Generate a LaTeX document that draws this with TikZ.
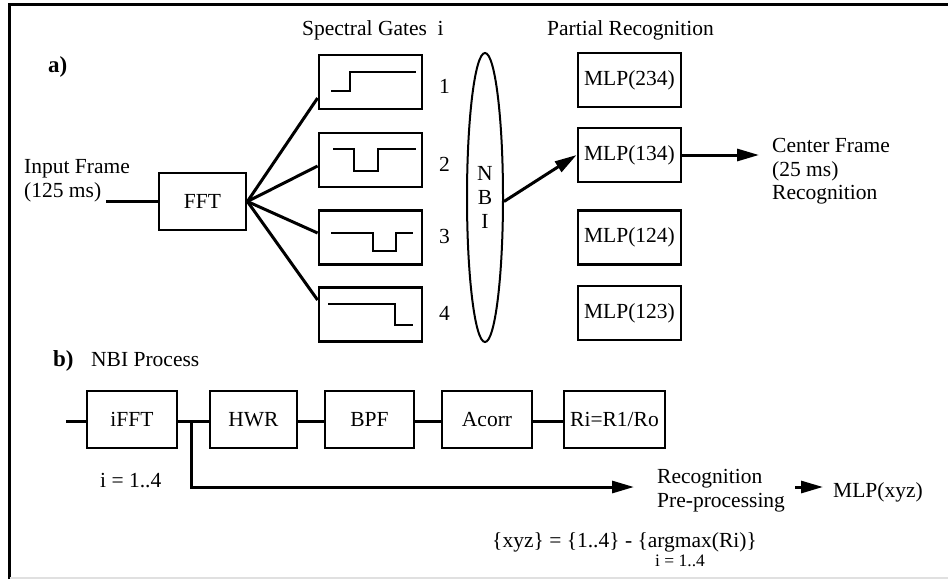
\documentclass[tikz,border=0pt]{standalone}
\usepackage{fontspec}
\setmainfont{Liberation Serif}
\usetikzlibrary{shapes.geometric,arrows.meta,calc}
\begin{document}
\begin{tikzpicture}[x=1pt,y=-1pt,
  font=\fontsize{21.5}{24}\selectfont,
  box/.style={draw,line width=2.8pt,inner sep=0pt,minimum height=54pt},
  rowbox/.style={draw,line width=2.8pt,inner sep=0pt,minimum height=57pt},
  conn/.style={line width=3pt},
  gate/.style={line width=2pt},
  arr/.style={line width=3pt,-{Triangle[length=22pt,width=12pt]}},
  txt/.style={anchor=base west,inner sep=0pt},
  ctxt/.style={anchor=base,inner sep=0pt},
  lbl/.style={anchor=base west,inner sep=0pt,font=\fontsize{23}{26}\selectfont\bfseries},
  small/.style={anchor=base,inner sep=0pt,font=\fontsize{17.5}{20}\selectfont}]
\useasboundingbox (0,0) rectangle (948,579);
% frame
\draw[line width=3pt] (9.5,579) -- (9.5,4) -- (948,4);
\draw[black!12,line width=1.2pt] (9.5,578) -- (948,578);

% ---------- a) ----------
\node[lbl] (la) at (48,72) {a)};
\node[txt] (sg) at (302,35) {Spectral Gates\ \ i};
\node[txt] (pr) at (547,35) {Partial Recognition};
\node[txt] (in1) at (24,173) {Input Frame};
\node[txt] (in2) at (24,197) {(125 ms)};

\node[box,minimum width=87pt,minimum height=57pt] (fft) at (202.5,201.5) {FFT};

\node[box,minimum width=103pt] (g1) at (370.5,82) {};
\node[box,minimum width=103pt] (g2) at (370.5,160) {};
\node[box,minimum width=103pt] (g3) at (370.5,237.5) {};
\node[box,minimum width=103pt] (g4) at (370.5,314.5) {};

\node[txt] (n1) at (439,93) {1};
\node[txt] (n2) at (439,171) {2};
\node[txt] (n3) at (439,243) {3};
\node[txt] (n4) at (439,320) {4};

% gate symbols
\draw[gate] (331,91) -- (350,91) -- (350,72) -- (416,72);
\draw[gate] (333,149) -- (354,149) -- (354,171) -- (378,171) -- (378,149) -- (416,149);
\draw[gate] (331,233) -- (373,233) -- (373,251) -- (396,251) -- (396,233) -- (413,233);
\draw[gate] (328,304) -- (395,304) -- (395,325) -- (413,325);

\node[draw,ellipse,line width=2pt,minimum width=36pt,minimum height=289pt,inner sep=0pt] (nbi) at (485,197.5) {};
\node[ctxt] (tn) at (485,180) {N};
\node[ctxt] (tb) at (485,204) {B};
\node[ctxt] (ti) at (485,228) {I};

\node[box,minimum width=103pt] (m234) at (629.5,80) {MLP(234)};
\node[box,minimum width=103pt] (m134) at (629.5,155) {MLP(134)};
\node[box,minimum width=103pt] (m124) at (629.5,237.5) {MLP(124)};
\node[box,minimum width=103pt] (m123) at (629.5,313) {MLP(123)};

\node[txt] (cf1) at (772,152) {Center Frame};
\node[txt] (cf2) at (772,176) {(25 ms)};
\node[txt] (cf3) at (772,199) {Recognition};

\coordinate (inp) at (106,201.5);
\draw[conn] (inp) -- (fft.west);
\draw[conn] (fft.east) -- ([yshift=-16pt]g1.west);
\draw[conn] (fft.east) -- ([yshift=-6pt]g2.west);
\draw[conn] (fft.east) -- ([yshift=4.5pt]g3.west);
\draw[conn] (fft.east) -- ([yshift=14.5pt]g4.west);

\draw[arr] ([yshift=-4pt]nbi.east) -- (m134.west);
\coordinate (cf) at (759,155);
\draw[arr] (m134.east) -- (cf);

% ---------- b) ----------
\node[lbl] (lb) at (53,366) {b)};
\node[txt] (np) at (91,366) {NBI Process};

\node[rowbox,minimum width=90pt] (ifft) at (132,419.5) {iFFT};
\node[rowbox,minimum width=87pt] (hwr) at (253.5,419.5) {HWR};
\node[rowbox,minimum width=89pt] (bpf) at (369.5,419.5) {BPF};
\node[rowbox,minimum width=90pt] (acorr) at (487,419.5) {Acorr};
\node[rowbox,minimum width=101pt] (ri) at (614.5,419.5) {Ri=R1/Ro};

\coordinate (bin) at (66,421);
\draw[conn] (bin) -- (bin -| ifft.west);
\draw[conn] ([yshift=-1.5pt]ifft.east) -- ([yshift=-1.5pt]hwr.west);
\draw[conn] ([yshift=-1.5pt]hwr.east) -- ([yshift=-1.5pt]bpf.west);
\draw[conn] ([yshift=-1.5pt]bpf.east) -- ([yshift=-1.5pt]acorr.west);
\draw[conn] ([yshift=-1.5pt]acorr.east) -- ([yshift=-1.5pt]ri.west);

\node[txt] (irange) at (100,487) {i = 1..4};

\coordinate (br) at (191,421);
\coordinate (rp) at (634,487);
\draw[arr] (br) |- (rp);

\node[txt] (rec1) at (657,483) {Recognition};
\node[txt] (rec2) at (657,507) {Pre-processing};

\node[anchor=base west,inner xsep=10pt,inner ysep=0pt] (mxyz) at (823,497) {MLP(xyz)};
\coordinate (sa) at (795,487);
\draw[arr] (sa) -- (sa -| mxyz.west);

\node[txt] (eq) at (492,547) {\{xyz\} = \{1..4\} - \{argmax(Ri)\}};
\node[small] (sub) at (680,566) {i = 1..4};
\end{tikzpicture}
\end{document}
